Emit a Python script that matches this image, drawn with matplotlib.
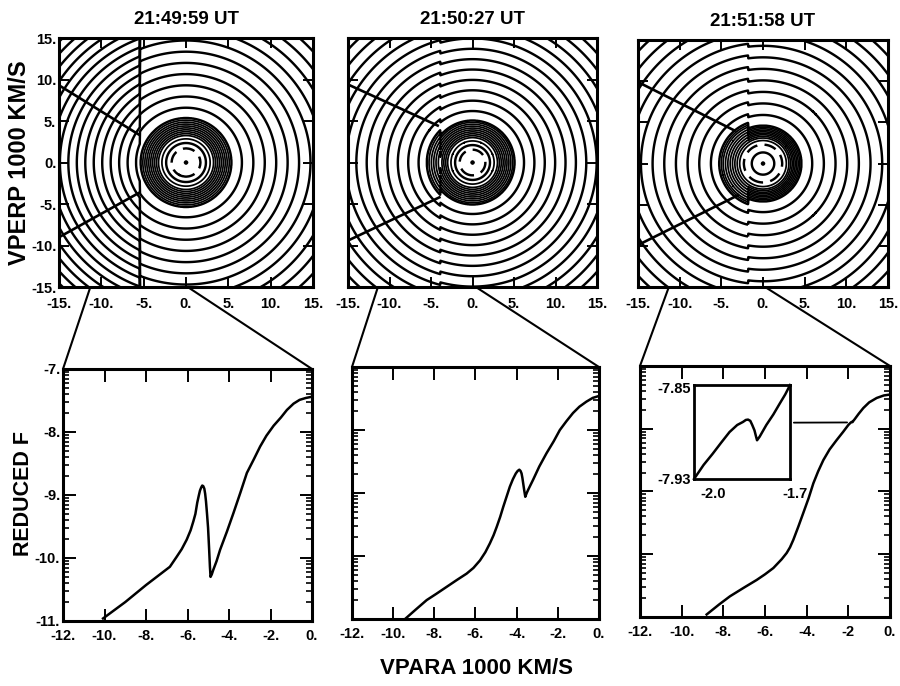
import numpy as np
import matplotlib
matplotlib.use('Agg')
import matplotlib.pyplot as plt
from matplotlib.patches import ConnectionPatch

plt.rcParams['font.family'] = ['Liberation Sans', 'DejaVu Sans']
plt.rcParams['font.weight'] = 'bold'
plt.rcParams['lines.dashed_pattern'] = [5.0, 3.0]

# Panel titles
TITLES = ['21:49:59 UT', '21:50:27 UT', '21:51:58 UT']

# Contour radii (1000 km/s), one contour per entry.
# "right" = VPARA above the boundary, "left" = VPARA below it.
RIGHT_RADII_1 = [0.12, 1.7, 2.35, 2.85, 3.25, 3.48, 3.71, 3.94, 4.17, 4.4, 4.63, 4.86, 5.1,
                 5.35, 6.6, 7.95, 9.3, 10.65, 12.0, 13.35, 14.7, 16.05, 17.4, 18.75, 20.1,
                 21.45]
LEFT_RADII_1 = [0.12, 1.7, 2.35, 2.85, 3.25, 3.48, 3.71, 3.94, 4.17, 4.4, 4.63, 4.86, 5.1,
                5.35, 5.9, 6.9, 7.9, 8.9, 9.9, 10.9, 11.9, 12.9, 13.9, 14.9, 15.9, 16.9,
                17.9, 18.9, 19.9, 20.9, 21.9]
RIGHT_RADII_2 = [0.12, 1.55, 2.1, 2.6, 3.0, 3.23, 3.46, 3.69, 3.92, 4.15, 4.38, 4.61, 4.84,
                 5.05, 6.2, 7.45, 8.7, 9.95, 11.2, 12.45, 13.7, 14.95, 16.2, 17.45, 18.7,
                 19.95, 21.2, 22.45]
LEFT_RADII_2 = [0.12, 1.55, 2.1, 2.6, 3.0, 3.28, 3.56, 3.84, 4.12, 4.4, 4.68, 4.96, 5.24,
                5.5, 6.5, 7.75, 9.0, 10.25, 11.5, 12.75, 14.0, 15.25, 16.5, 17.75, 19.0,
                20.25, 21.5, 22.75]
RIGHT_RADII_3 = [0.12, 1.35, 2.3, 2.8, 3.1, 3.3, 3.5, 3.68, 3.86, 4.04, 4.22, 4.4, 4.6,
                 5.9, 7.3, 8.7, 10.1, 11.5, 12.9, 14.3, 15.7, 17.1, 18.5, 19.9, 21.3, 22.7]
LEFT_RADII_3 = [0.12, 1.35, 2.3, 2.8, 3.1, 3.38, 3.66, 3.94, 4.22, 4.5, 4.78, 5.0, 5.25,
                6.25, 7.65, 9.05, 10.45, 11.85, 13.25, 14.65, 16.05, 17.45, 18.85, 20.25,
                21.65, 23.05]
BOUNDARY = [-5.45, -3.9, -1.8]
DASHED_LEVEL = [1, 1, 2]

# Instrument cone edges: (VPARA, VPERP) at the left edge and at the apex
CONE_UPPER = [[(-15, 9.3), (-5.55, 3.35)], [(-15, 9.4), (-4.2, 4.45)], [(-15, 9.9), (-3.4, 4.0)]]
CONE_LOWER = [[(-15, -9.0), (-5.55, -3.65)], [(-15, -9.4), (-4.0, -4.2)], [(-15, -9.9), (-3.0, -3.85)]]

# Reduced distribution cuts
VPARA_1 = [-10.07, -9.0, -8.0, -6.85, -6.52, -6.28, -6.04, -5.85, -5.72, -5.62, -5.53, -5.45,
           -5.40, -5.34, -5.29, -5.24, -5.19, -5.15, -5.11, -5.06, -5.01, -4.96, -4.92, -4.89,
           -4.83, -4.76, -4.6, -4.43, -4.1, -3.79, -3.45, -3.14, -2.8, -2.5, -2.2, -1.85, -1.5,
           -1.21, -0.89, -0.6, -0.3, 0.0]
F_1 = [-10.96, -10.70, -10.43, -10.14, -9.98, -9.86, -9.71, -9.56, -9.42, -9.3, -9.12, -9.0,
       -8.93, -8.88, -8.85, -8.86, -8.9, -8.98, -9.1, -9.3, -9.52, -9.85, -10.14, -10.3,
       -10.26, -10.19, -10.05, -9.87, -9.58, -9.29, -8.96, -8.65, -8.43, -8.23, -8.06, -7.9,
       -7.77, -7.65, -7.55, -7.49, -7.46, -7.44]
VPARA_2 = [-9.42, -8.9, -8.37, -7.9, -7.4, -6.9, -6.43, -6.1, -5.78, -5.52, -5.3, -5.12,
           -4.97, -4.8, -4.65, -4.48, -4.33, -4.18, -4.04, -3.95, -3.87, -3.81, -3.76, -3.72,
           -3.68, -3.63, -3.58, -3.51, -3.44, -3.32, -3.2, -2.9, -2.55, -2.2, -1.9, -1.58,
           -1.26, -0.95, -0.61, -0.3, 0.0]
F_2 = [-11.0, -10.85, -10.7, -10.6, -10.49, -10.38, -10.28, -10.19, -10.07, -9.94, -9.8,
       -9.67, -9.54, -9.38, -9.22, -9.05, -8.9, -8.78, -8.69, -8.65, -8.63, -8.65, -8.69,
       -8.76, -8.85, -8.96, -9.06, -9.0, -8.95, -8.87, -8.79, -8.58, -8.37, -8.18, -8.0,
       -7.86, -7.73, -7.63, -7.55, -7.49, -7.46]
VPARA_3 = [-8.8, -8.2, -7.68, -7.0, -6.4, -6.0, -5.6, -5.2, -4.96, -4.8, -4.64, -4.4, -4.16,
           -3.9, -3.68, -3.45, -3.2, -2.9, -2.56, -2.25, -2.0, -1.88, -1.83, -1.8, -1.75,
           -1.7, -1.5, -1.28, -1.0, -0.64, -0.3, 0.0]
F_3 = [-10.96, -10.8, -10.67, -10.53, -10.41, -10.32, -10.22, -10.08, -9.98, -9.89, -9.77,
       -9.56, -9.34, -9.1, -8.87, -8.68, -8.5, -8.33, -8.18, -8.05, -7.94, -7.9, -7.89,
       -7.895, -7.87, -7.85, -7.76, -7.67, -7.58, -7.51, -7.47, -7.455]

# Inset: close-up of the third cut
INSET_VPARA = [-2.0, -1.97, -1.942, -1.915, -1.889, -1.865, -1.847, -1.838, -1.831, -1.824,
               -1.818, -1.811, -1.806, -1.803, -1.795, -1.774, -1.752, -1.732, -1.715, -1.7]
INSET_F = [-7.93, -7.918, -7.9086, -7.899, -7.89, -7.884, -7.8814, -7.8797, -7.8794, -7.8805,
           -7.884, -7.8886, -7.894, -7.897, -7.894, -7.884, -7.875, -7.8657, -7.858, -7.85]

TOP_TICKS = [-15, -10, -5, 0, 5, 10, 15]
TOP_TICK_LABELS = ['-15.', '-10.', '-5.', '0.', '5.', '10.', '15.']
BOT_XTICKS = [-12, -10, -8, -6, -4, -2, 0]
BOT_XTICK_LABELS = [['-12.', '-10.', '-8.', '-6.', '-4.', '-2.', '0.'],
                    ['-12.', '-10.', '-8.', '-6.', '-4.', '-2.', '0.'],
                    ['-12.', '-10.', '-8.', '-6.', '-4.', '-2', '0.']]
BOT_YTICKS = [-11, -10, -9, -8, -7]
BOT_YTICK_LABELS = ['-11.', '-10.', '-9.', '-8.', '-7.']

# Zoom connectors: start on the contour plot, end on the cut (VPARA, VPERP) -> (VPARA, F)
CONN_LEFT = [((-11.3, -15.0), (-12, -7)), ((-11.4, -15.0), (-12, -7)), ((-11.3, -15.0), (-12, -7))]
CONN_DASH = [((-4.0, -15.6), (-4.65, -7)), ((-2.95, -15.6), (-3.26, -7)), ((-1.2, -15.6), (-1.76, -7))]
CONN_RIGHT = [((0.2, -15.0), (0, -7)), ((0.4, -15.0), (0, -7)), ((0.25, -15.0), (0, -7))]

fig = plt.figure(figsize=(9, 6.86), dpi=100)

top_pos = [[0.0656, 0.5816, 0.2822, 0.363], [0.3867, 0.5816, 0.2767, 0.363],
           [0.7089, 0.5816, 0.2778, 0.360]]
bot_pos = [[0.070, 0.0948, 0.2767, 0.3673], [0.3911, 0.0977, 0.2744, 0.3673],
           [0.7111, 0.1006, 0.2778, 0.3659]]

right_tables = [RIGHT_RADII_1, RIGHT_RADII_2, RIGHT_RADII_3]
left_tables = [LEFT_RADII_1, LEFT_RADII_2, LEFT_RADII_3]
cuts = [(VPARA_1, F_1), (VPARA_2, F_2), (VPARA_3, F_3)]

g = np.linspace(-15, 15, 901)
VX, VY = np.meshgrid(g, g)
R = np.hypot(VX, VY)

minor_y = [n + np.log10(k) for n in range(-11, -7) for k in range(2, 10)]

for i in range(3):
    # ---- velocity-space contours ----
    ax = fig.add_axes(top_pos[i])
    rt = right_tables[i]
    lt = left_tables[i]
    f_right = np.interp(R, [0.0] + rt, [-1] + list(range(len(rt))))
    f_left = np.interp(R, [0.0] + lt, [-1] + list(range(len(lt))))
    field = np.where(VX < BOUNDARY[i], f_left, f_right)
    nlev = max(len(rt), len(lt))
    styles = ['solid'] * nlev
    styles[DASHED_LEVEL[i]] = 'dashed'
    # closely packed contours (steep part of the core) get a thinner pen
    widths = []
    for k in range(nlev):
        if 3 <= k < len(rt) - 1 and rt[k + 1] - rt[k] < 0.5:
            widths.append(1.25)
        else:
            widths.append(1.75)
    ax.contour(VX, VY, field, levels=np.arange(nlev), colors='k',
               linewidths=widths, linestyles=styles)
    for edge in (CONE_UPPER[i], CONE_LOWER[i]):
        ax.plot([p[0] for p in edge], [p[1] for p in edge], color='k', lw=1.9)
    ax.set_xlim(-15, 15)
    ax.set_ylim(-15, 15)
    ax.set_xticks(TOP_TICKS)
    ax.set_xticklabels(TOP_TICK_LABELS)
    ax.set_yticks(TOP_TICKS)
    ax.set_yticklabels(TOP_TICK_LABELS)
    ax.tick_params(direction='in', length=7, width=1.4, top=True, right=True,
                   labelsize=10.5, labelleft=(i == 0))
    ax.tick_params(axis='x', pad=7)
    ax.tick_params(axis='y', pad=2)
    for s in ax.spines.values():
        s.set_linewidth(2.2)
    ax.set_title(TITLES[i], fontsize=13.5, fontweight='bold', pad=10)

    # ---- reduced F cut ----
    bx = fig.add_axes(bot_pos[i])
    bx.plot(cuts[i][0], cuts[i][1], color='k', lw=1.8)
    bx.set_xlim(-12, 0)
    bx.set_ylim(-11, -7)
    bx.set_xticks(BOT_XTICKS)
    bx.set_xticklabels(BOT_XTICK_LABELS[i])
    bx.set_yticks(BOT_YTICKS)
    bx.set_yticklabels(BOT_YTICK_LABELS)
    bx.set_yticks(minor_y, minor=True)
    bx.tick_params(which='major', direction='in', length=9, width=1.4, top=True,
                   right=True, labelsize=10.5, labelleft=(i == 0))
    bx.tick_params(axis='x', which='major', pad=6)
    bx.tick_params(axis='y', which='major', pad=2)
    bx.tick_params(which='minor', direction='in', length=4.5, width=1.2, right=True)
    for s in bx.spines.values():
        s.set_linewidth(2.2)

    # ---- zoom connectors ----
    for (pa, pb), ls in ((CONN_LEFT[i], '-'), (CONN_DASH[i], (0, (5, 3.5))),
                         (CONN_RIGHT[i], '-')):
        con = ConnectionPatch(xyA=pa, coordsA='data', axesA=ax,
                              xyB=pb, coordsB='data', axesB=bx,
                              color='k', lw=1.5, linestyle=ls)
        fig.add_artist(con)

    if i == 2:
        ins = fig.add_axes([0.7711, 0.3017, 0.1067, 0.137])
        ins.plot(INSET_VPARA, INSET_F, color='k', lw=1.8, clip_on=False)
        ins.set_xlim(-2.0, -1.7)
        ins.set_ylim(-7.93, -7.85)
        ins.set_xticks([])
        ins.set_yticks([])
        for s in ins.spines.values():
            s.set_linewidth(2.0)
        ins.text(-0.03, 0.96, '-7.85', transform=ins.transAxes, ha='right', va='center',
                 fontsize=10.5)
        ins.text(-0.03, -0.01, '-7.93', transform=ins.transAxes, ha='right', va='center',
                 fontsize=10.5)
        ins.text(0.2, -0.08, '-2.0', transform=ins.transAxes, ha='center', va='top',
                 fontsize=10.5)
        ins.text(1.05, -0.08, '-1.7', transform=ins.transAxes, ha='center', va='top',
                 fontsize=10.5)
        lead = ConnectionPatch(xyA=(1.04, 0.6), coordsA='axes fraction', axesA=ins,
                               xyB=(-2.06, -7.90), coordsB='data', axesB=bx,
                               color='k', lw=1.3)
        fig.add_artist(lead)

fig.text(0.022, 1 - 163 / 686, 'VPERP 1000 KM/S', rotation=90, ha='center', va='center',
         fontsize=17, fontweight='bold')
fig.text(0.026, 1 - 493 / 686, 'REDUCED F', rotation=90, ha='center', va='center',
         fontsize=15.5, fontweight='bold')
fig.text(0.530, 1 - 668 / 686, 'VPARA 1000 KM/S', ha='center', va='center',
         fontsize=16, fontweight='bold')

fig.savefig('out.png', dpi=100)
